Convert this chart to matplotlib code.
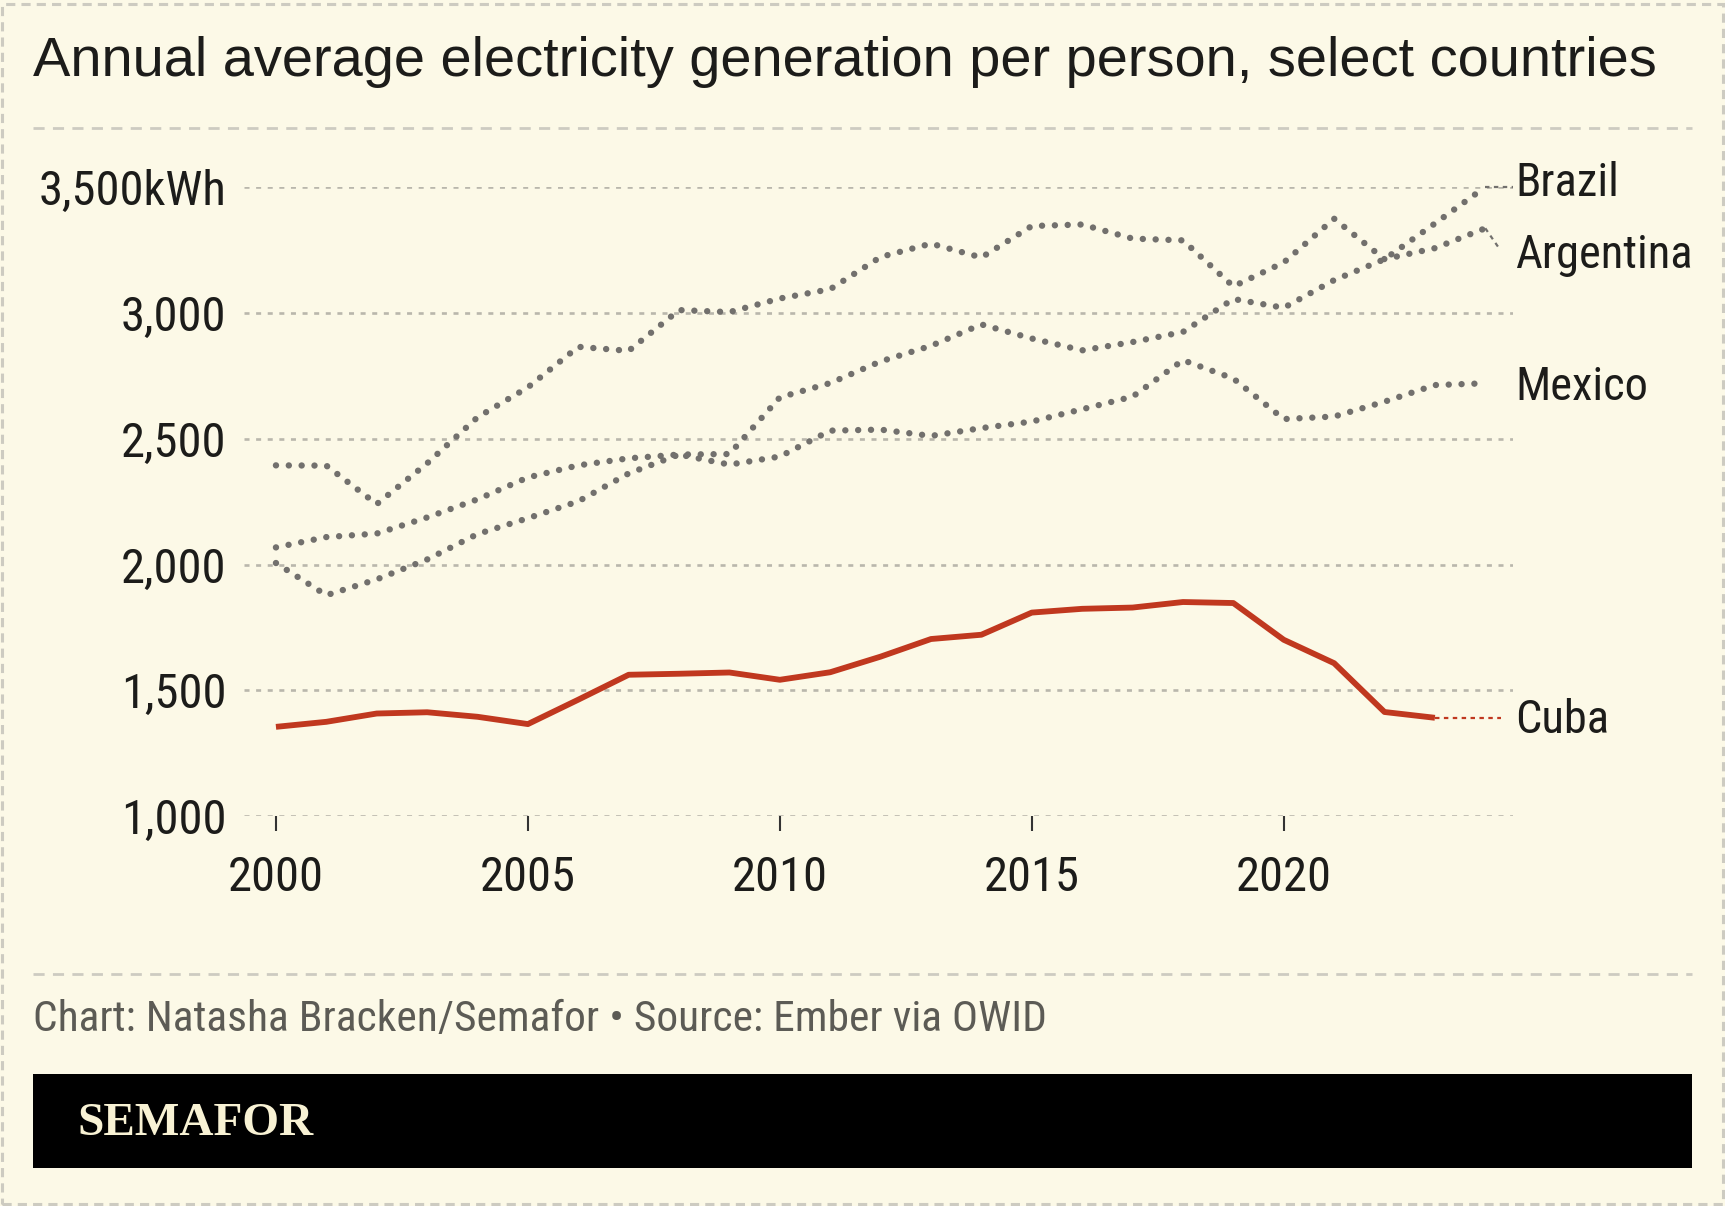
import matplotlib
matplotlib.use("Agg")
import matplotlib.pyplot as plt
from matplotlib import font_manager
from matplotlib.patches import Rectangle
from matplotlib.lines import Line2D

# ---------------- data ----------------
years = list(range(2000, 2025))
years_cuba = list(range(2000, 2024))

argentina = [2394, 2393, 2240, 2402, 2585, 2704, 2865, 2849, 3011, 3003,
             3057, 3094, 3222, 3275, 3220, 3345, 3351, 3295, 3288, 3105,
             3200, 3374, 3213, 3257, 3336]
brazil = [2006, 1878, 1941, 2020, 2121, 2184, 2251, 2362, 2437, 2439,
          2664, 2721, 2807, 2869, 2954, 2898, 2851, 2884, 2924, 3055,
          3020, 3130, 3213, 3355, 3500]
mexico = [2068, 2109, 2123, 2187, 2259, 2346, 2394, 2422, 2437, 2397,
          2429, 2532, 2536, 2511, 2542, 2568, 2617, 2667, 2812, 2739,
          2578, 2588, 2647, 2713, 2720]
cuba = [1355, 1375, 1408, 1413, 1395, 1366, 1463, 1562, 1566, 1571,
        1542, 1572, 1634, 1704, 1721, 1809, 1824, 1829, 1851, 1847,
        1701, 1608, 1414, 1391]

y_ticks = [1000, 1500, 2000, 2500, 3000, 3500]
y_tick_labels = ["1,000", "1,500", "2,000", "2,500", "3,000", "3,500kWh"]
x_ticks = [2000, 2005, 2010, 2015, 2020]
x_tick_labels = ["2000", "2005", "2010", "2015", "2020"]

label_names = ["Brazil", "Argentina", "Mexico", "Cuba"]
label_values = [3517, 3229, 2705, 1382]

title = "Annual average electricity generation per person, select countries"
source = "Chart: Natasha Bracken/Semafor \u2022 Source: Ember via OWID"

# ---------------- fonts ----------------
avail = {f.name for f in font_manager.fontManager.ttflist}
def pick(*names):
    for n in names:
        if n in avail:
            return n
    return "DejaVu Sans"

TITLE_FONT = pick("Liberation Sans", "Arial", "DejaVu Sans")
COND_FONT = pick("Liberation Sans Narrow", "Roboto Condensed", "Open Sans Condensed",
                 "DejaVu Sans Condensed", "Roboto", "Liberation Sans")
SERIF_FONT = pick("Liberation Serif", "DejaVu Serif")

# ---------------- colors ----------------
BG = "#fcf9e7"
GRID = "#b9b7ac"
RULE = "#cdcbc1"
GREY_LINE = "#72706d"
RED = "#c0381f"
TEXT = "#1c1c1a"
SRC = "#5c5b55"

W, H = 1725, 1206
fig = plt.figure(figsize=(W / 100, H / 100), dpi=100, facecolor=BG)

def fx(px):
    return px / W

def fy(py):
    return 1 - py / H

# outer dashed border
fig.patches.append(Rectangle((fx(2), fy(1204)), fx(1721), (1200) / H,
                             transform=fig.transFigure, fill=False,
                             edgecolor=RULE, linewidth=2.2,
                             linestyle=(0, (3, 2))))

# title
fig.text(fx(33), fy(62), title, fontsize=40.3, family=TITLE_FONT,
         color=TEXT, va="center", ha="left")

# top and bottom rules
for yy in (128, 974):
    fig.add_artist(Line2D([fx(33), fx(1692)], [fy(yy), fy(yy)],
                          transform=fig.transFigure, color=RULE,
                          linewidth=2.0, linestyle=(0, (4, 3))))

# source
fig.text(fx(33), fy(1019), source, fontsize=31.3, family=COND_FONT,
         color=SRC, va="center", ha="left")

# black footer
fig.patches.append(Rectangle((fx(33), fy(1168)), fx(1692 - 33), (1168 - 1074) / H,
                             transform=fig.transFigure, facecolor="#000000",
                             edgecolor="none"))
fig.text(fx(77), fy(1124), "SEMAFOR", fontsize=34, family=SERIF_FONT,
         weight="bold", color="#f8f2d4", va="center", ha="left")

# ---------------- axes ----------------
x0, x1 = 1999.37, 2024.54
ax_left, ax_right = 244.2, 1512.5
ax_top, ax_bottom = 187.0, 816.2
ax = fig.add_axes([fx(ax_left), fy(ax_bottom), fx(ax_right - ax_left),
                   (ax_bottom - ax_top) / H])
ax.set_facecolor("none")
ax.set_xlim(x0, x1)
ax.set_ylim(1000, 3500)
for s in ax.spines.values():
    s.set_visible(False)

ax.set_yticks(y_ticks)
ax.set_yticklabels(y_tick_labels, family=COND_FONT, fontsize=35, color=TEXT)
ax.tick_params(axis="y", length=0, pad=13)
ax.set_xticks(x_ticks)
ax.set_xticklabels(x_tick_labels, family=COND_FONT, fontsize=35, color=TEXT)
ax.tick_params(axis="x", length=11, width=1.5, color="#333333", pad=17,
               direction="out")
ax.yaxis.grid(True, color=GRID, linewidth=1.9, linestyle=(0, (1.9, 2.5)))
ax.set_axisbelow(True)

dot = (0, (0.01, 2.0))
for series in (argentina, brazil, mexico):
    ax.plot(years, series, color=GREY_LINE, linewidth=4.6, linestyle=dot,
            dash_capstyle="round", solid_joinstyle="round", clip_on=False,
            zorder=3)

ax.plot(years_cuba, cuba, color=RED, linewidth=4.2, solid_joinstyle="round",
        solid_capstyle="butt", clip_on=False, zorder=4)

# connectors to labels
lab_x = 2024.6
ax.plot([years[-1], lab_x - 0.05], [brazil[-1], brazil[-1]], color=GREY_LINE,
        linewidth=1.6, linestyle=(0, (2, 2)), clip_on=False, zorder=3)
ax.plot([years[-1], years[-1] + 0.3], [argentina[-1], label_values[1] + 20],
        color=GREY_LINE, linewidth=1.6, linestyle=(0, (2, 2)), clip_on=False,
        zorder=3)
ax.plot([years_cuba[-1], 2024.32], [cuba[-1], cuba[-1]], color=RED,
        linewidth=1.6, linestyle=(0, (2, 2)), clip_on=False, zorder=3)

for name, v in zip(label_names, label_values):
    ax.text(lab_x, v, name, family=COND_FONT, fontsize=33.5, color=TEXT,
            va="center", ha="left", clip_on=False)

fig.savefig("out.png", dpi=100, facecolor=BG)
